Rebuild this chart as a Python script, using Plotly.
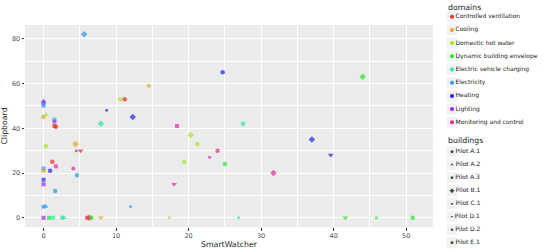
import plotly.graph_objects as go
import numpy as np
import pandas as pd

# data
smartwatcher = [5.6, 0, 0, 0, 0, 0.3, 1.5, 1.5, 1.5, 1.7,
                8.7, 10.6, 11.2, 14.5, 12.3, 7.9, 18.4, 0.3, 4.4, 4.5,
                5.1, 1.2, 1.7, 4.1, 0, 0, 0.9, 4.6, 0, 0,
                1.6, 0, 0.3, 12.0, 0, 0.75, 1.3, 2.6, 2.8, 6.0,
                6.3, 6.6, 7.9, 17.3, 20.3, 21.2, 24.0, 22.9, 19.4, 25.0,
                18.0, 26.9, 27.5, 24.7, 44.0, 37.0, 39.6, 31.7, 41.6, 45.9,
                50.9]
clipboard = [82, 52, 51, 50, 45, 46, 44, 43, 41, 40.7,
             48, 53, 53, 59, 45, 42, 41, 32, 33, 30,
             30, 25, 23, 22, 22, 21, 21, 19, 17, 15,
             12, 5, 5, 5, 0, 0, 0, 0, 0, 0,
             0, 0, 0, 0, 37, 33, 30, 27, 25, 24,
             15, 0, 42, 65, 63, 35, 28, 20, 0, 0,
             0]
domain = ["Electricity", "Heating", "Lighting", "Electricity", "Cooling",
          "Domestic hot water", "Electric vehicle charging", "Lighting",
          "Controlled ventilation", "Controlled ventilation",
          "Heating", "Domestic hot water", "Controlled ventilation", "Cooling",
          "Heating", "Electric vehicle charging", "Monitoring and control",
          "Domestic hot water", "Cooling", "Controlled ventilation",
          "Controlled ventilation", "Controlled ventilation",
          "Monitoring and control", "Monitoring and control", "Electricity",
          "Cooling", "Heating", "Electricity", "Heating", "Lighting",
          "Electricity", "Electricity", "Electricity", "Electricity", "Lighting",
          "Dynamic building envelope", "Electric vehicle charging",
          "Electric vehicle charging", "Electric vehicle charging",
          "Monitoring and control",
          "Controlled ventilation", "Dynamic building envelope", "Cooling",
          "Domestic hot water", "Domestic hot water", "Domestic hot water",
          "Monitoring and control", "Monitoring and control",
          "Domestic hot water", "Dynamic building envelope",
          "Monitoring and control", "Electric vehicle charging",
          "Electric vehicle charging", "Heating", "Dynamic building envelope",
          "Heating", "Heating", "Monitoring and control",
          "Dynamic building envelope", "Dynamic building envelope",
          "Dynamic building envelope"]
building = ["Pilot B.1", "Pilot A.2", "Pilot A.1", "Pilot A.1", "Pilot A.1",
            "Pilot A.2", "Pilot A.3", "Pilot A.3", "Pilot A.3", "Pilot A.1",
            "Pilot D.1", "Pilot A.1", "Pilot A.1", "Pilot D.2", "Pilot B.1",
            "Pilot B.1", "Pilot A.3", "Pilot A.3", "Pilot B.1", "Pilot D.1",
            "Pilot C.1", "Pilot A.1", "Pilot A.3", "Pilot D.2", "Pilot A.3",
            "Pilot A.1", "Pilot A.1", "Pilot A.1", "Pilot A.3", "Pilot A.3",
            "Pilot A.1", "Pilot A.3", "Pilot A.2", "Pilot D.1", "Pilot A.3",
            "Pilot A.3", "Pilot A.1", "Pilot A.1", "Pilot A.2", "Pilot A.1",
            "Pilot B.1", "Pilot A.1", "Pilot C.1", "Pilot D.1", "Pilot B.1",
            "Pilot A.1", "Pilot A.1", "Pilot D.1", "Pilot A.1", "Pilot A.1",
            "Pilot C.1", "Pilot D.1", "Pilot A.1", "Pilot A.1", "Pilot B.1",
            "Pilot B.1", "Pilot C.1", "Pilot B.1", "Pilot C.1", "Pilot D.1",
            "Pilot A.1"]

domains = ["Controlled ventilation", "Cooling", "Domestic hot water",
           "Dynamic building envelope", "Electric vehicle charging",
           "Electricity", "Heating", "Lighting", "Monitoring and control"]
buildings = ["Pilot A.1", "Pilot A.2", "Pilot A.3", "Pilot B.1", "Pilot C.1",
             "Pilot D.1", "Pilot D.2", "Pilot E.1"]

# styles
hues = [3, 40, 80, 120, 162, 203, 240, 278, 322]
dom_color = {d: f"hsl({h},80%,52%)" for d, h in zip(domains, hues)}
bld_symbol = {"Pilot A.1": "circle", "Pilot A.2": "triangle-up",
              "Pilot A.3": "square", "Pilot B.1": "diamond",
              "Pilot C.1": "triangle-down", "Pilot D.1": "circle",
              "Pilot D.2": "circle", "Pilot E.1": "circle"}
bld_size = {"Pilot A.1": 4.5, "Pilot A.2": 5, "Pilot A.3": 4,
            "Pilot B.1": 5, "Pilot C.1": 5, "Pilot D.1": 3,
            "Pilot D.2": 4, "Pilot E.1": 4.5}

df = pd.DataFrame({"x": smartwatcher, "y": clipboard,
                   "domain": domain, "building": building})

W, H = 550, 252
px0, px1, py0, py1 = 25, 433, 25, 227  # panel in pixels
LX0 = 440  # legend area left edge
FONT = "DejaVu Sans"

fig = go.Figure()

fig.add_trace(go.Scatter(
    x=df["x"], y=df["y"], mode="markers",
    marker=dict(color=[dom_color[d] for d in df["domain"]],
                symbol=[bld_symbol[b] for b in df["building"]],
                size=[bld_size[b] for b in df["building"]],
                line=dict(width=0)),
    hoverinfo="x+y+text", text=df["domain"] + " / " + df["building"],
    showlegend=False,
))

# hand-made legends on a hidden pixel-space axis
key_x = 452
dom_y = 16.7 + 13.2 * np.arange(len(domains))
bld_y = 151.7 + 13.0 * np.arange(len(buildings))
all_y = np.concatenate([dom_y, bld_y])

fig.add_trace(go.Scatter(
    x=[key_x] * len(all_y), y=all_y, mode="markers",
    marker=dict(symbol="square", size=11, color="#F2F2F2", line=dict(width=0)),
    xaxis="x2", yaxis="y2", hoverinfo="skip", showlegend=False))
fig.add_trace(go.Scatter(
    x=[key_x] * len(domains), y=dom_y, mode="markers+text",
    marker=dict(symbol="circle", size=4, color=[dom_color[d] for d in domains]),
    text=domains, textposition="middle right",
    textfont=dict(size=6.0, color="#1A1A1A", family=FONT),
    xaxis="x2", yaxis="y2", hoverinfo="skip", showlegend=False))
fig.add_trace(go.Scatter(
    x=[key_x] * len(buildings), y=bld_y, mode="markers+text",
    marker=dict(symbol=[bld_symbol[b] for b in buildings],
                size=[bld_size[b] * 0.9 for b in buildings], color="black"),
    text=buildings, textposition="middle right",
    textfont=dict(size=6.0, color="#1A1A1A", family=FONT),
    xaxis="x2", yaxis="y2", hoverinfo="skip", showlegend=False))

for title, ty in [("domains", 7), ("buildings", 140.7)]:
    fig.add_annotation(text=title, xref="paper", yref="paper",
                       x=446 / W, y=1 - ty / H, xanchor="left", yanchor="middle",
                       showarrow=False, font=dict(size=7.8, color="#1A1A1A", family=FONT))

# grey panel background only behind the main axes
fig.add_shape(type="rect", xref="x domain", yref="y domain", x0=0, x1=1, y0=0, y1=1,
              fillcolor="#EBEBEB", line=dict(width=0), layer="below")

axis_common = dict(showgrid=True, gridcolor="white", gridwidth=1, zeroline=False,
                   ticks="outside", ticklen=2.5, tickcolor="#333333", tickwidth=1,
                   tickfont=dict(size=6.5, color="#4D4D4D", family=FONT),
                   showline=False)

fig.update_layout(
    width=W, height=H,
    margin=dict(l=0, r=0, t=0, b=0),
    paper_bgcolor="white", plot_bgcolor="rgba(0,0,0,0)",
    font=dict(family=FONT),
    xaxis=dict(axis_common, domain=[px0 / W, px1 / W], range=[-2.56, 53.7],
               tickvals=[0, 10, 20, 30, 40, 50],
               minor=dict(tickvals=[5, 15, 25, 35, 45],
                          showgrid=True, gridcolor="white", gridwidth=0.5),
               title=dict(text="SmartWatcher", standoff=2,
                          font=dict(size=7.8, color="#1A1A1A", family=FONT))),
    yaxis=dict(axis_common, domain=[1 - py1 / H, 1 - py0 / H], range=[-4.1, 86.1],
               tickvals=[0, 20, 40, 60, 80],
               minor=dict(tickvals=[10, 30, 50, 70],
                          showgrid=True, gridcolor="white", gridwidth=0.5),
               title=dict(text="Clipboard", standoff=3,
                          font=dict(size=7.8, color="#1A1A1A", family=FONT))),
    xaxis2=dict(domain=[LX0 / W, 1], range=[LX0, W], visible=False, fixedrange=True,
                anchor="y2"),
    yaxis2=dict(domain=[0, 1], range=[H, 0], visible=False, fixedrange=True,
                anchor="x2"),
    hovermode="closest",
)

fig.write_html("out.html", config={"displayModeBar": False},
               post_script="document.body.style.margin='0';")
